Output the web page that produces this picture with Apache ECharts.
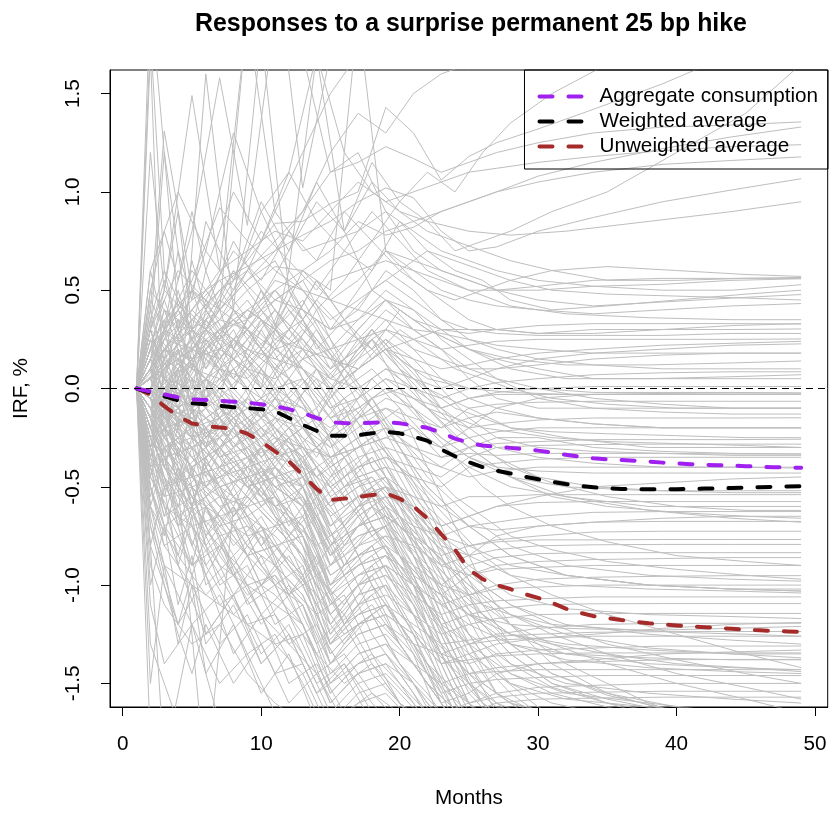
<!DOCTYPE html>
<html>
<head>
<meta charset="utf-8">
<script src="https://cdn.jsdelivr.net/npm/echarts@6/dist/echarts.min.js"></script>
<style>
  html, body { margin: 0; padding: 0; background: #fff; }
  #chart { width: 830px; height: 814px; }
</style>
</head>
<body>
<div id="chart"></div>
<script>
// Horizon in months for the summary responses
const months = [1,2,3,4,5,6,7,8,9,10,11,12,13,14,15,16,17,18,19,20,21,22,23,24,25,
  26,27,28,29,30,31,32,33,34,35,36,37,38,39,40,41,42,43,44,45,46,47,48,49];

const aggregateConsumption = [0,-0.015,-0.03,-0.045,-0.055,-0.058,-0.063,-0.067,-0.072,-0.08,
  -0.09,-0.105,-0.125,-0.15,-0.172,-0.176,-0.177,-0.174,-0.171,-0.177,
  -0.188,-0.2,-0.225,-0.255,-0.275,-0.29,-0.297,-0.302,-0.308,-0.316,
  -0.326,-0.337,-0.347,-0.355,-0.36,-0.364,-0.367,-0.372,-0.377,-0.381,
  -0.385,-0.388,-0.39,-0.392,-0.395,-0.398,-0.4,-0.402,-0.403];

const weightedAverage = [0,-0.02,-0.04,-0.06,-0.075,-0.08,-0.088,-0.095,-0.1,-0.105,
  -0.115,-0.15,-0.185,-0.215,-0.24,-0.24,-0.237,-0.228,-0.22,-0.228,
  -0.245,-0.265,-0.31,-0.345,-0.375,-0.4,-0.418,-0.432,-0.448,-0.462,
  -0.475,-0.486,-0.495,-0.502,-0.508,-0.511,-0.512,-0.513,-0.513,-0.512,
  -0.51,-0.509,-0.508,-0.506,-0.504,-0.502,-0.5,-0.498,-0.497];

const unweightedAverage = [0,-0.03,-0.09,-0.14,-0.178,-0.19,-0.198,-0.205,-0.23,-0.27,
  -0.32,-0.37,-0.44,-0.51,-0.567,-0.56,-0.552,-0.542,-0.533,-0.56,
  -0.6,-0.66,-0.74,-0.82,-0.92,-0.97,-1.0,-1.02,-1.045,-1.065,
  -1.09,-1.12,-1.14,-1.158,-1.168,-1.178,-1.186,-1.194,-1.2,-1.205,
  -1.21,-1.214,-1.218,-1.222,-1.227,-1.23,-1.233,-1.236,-1.238];

// Months at which the first set of individual responses is recorded
const pathMonths = [1,2,3,5,7,9,11,13,15,17,19,21,23,25,27,30,34,39,44,49];

// Individual responses that end well above zero
const highPaths = [
  [0,0.4,1.31,0.5,0.35,0.6,0.9,1.2,1.5,1.7,1.9,2.1,2.3,2.4,2.5,2.6,2.7,2.8,2.9,3.0],
  [0,0.2,0.5,1.49,0.6,1.9,2.2,1.02,1.7,2.0,1.8,1.9,2.0,2.1,2.2,2.2,2.3,2.3,2.4,2.4],
  [0,0.15,0.3,0.8,1.58,0.83,1.9,1.7,1.1,1.2,0.9,0.7,0.6,0.55,0.5,0.52,0.55,0.56,0.56,0.565],
  [0,0.1,0.25,0.55,0.92,0.75,0.6,0.5,0.45,0.4,0.35,0.3,0.28,0.25,0.22,0.2,0.18,0.18,0.18,0.18],
  [0,0.05,0.15,0.3,0.5,0.65,0.84,0.85,0.94,1.0,1.43,1.3,1.06,1.18,1.25,1.32,1.42,1.55,1.7,1.8],
  [0,0.08,0.2,0.35,0.5,0.6,0.75,0.9,1.1,1.15,1.23,1.17,1.1,1.15,1.2,1.25,1.3,1.33,1.34,1.356],
  [0,0.1,0.3,0.45,0.55,0.62,0.7,0.78,0.85,0.95,1.02,0.97,0.8,0.7,0.72,0.8,0.87,0.95,1.01,1.067],
  [0,0.05,0.1,0.2,0.3,0.35,0.45,0.55,0.65,0.7,0.8,0.85,0.9,0.95,1.0,1.08,1.15,1.22,1.28,1.33],
  [0,0.1,0.2,0.4,0.6,0.7,0.8,0.75,0.9,1.05,0.95,1.0,1.05,1.1,1.12,1.15,1.18,1.21,1.23,1.24],
  [0,0.06,0.12,0.25,0.35,0.5,0.62,0.6,0.7,0.85,0.78,0.82,0.9,0.95,1.0,1.05,1.1,1.14,1.16,1.178],
  [0,1.8,0.6,0.3,0.2,0.3,0.1,0.2,0.15,0.1,0.2,0.25,0.3,0.3,0.3,0.28,0.3,0.3,0.3,0.303],
  [0,0.3,1.2,0.2,0.1,0.05,0.2,0.1,-0.1,0.0,0.1,0.0,-0.1,-0.05,-0.02,0.0,-0.02,-0.02,-0.02,-0.023],
  [0,0.1,0.2,0.3,0.4,0.55,0.7,0.9,1.2,1.4,1.3,1.5,1.6,1.65,1.7,1.8,1.9,2.0,2.1,2.2],
  [0,0.05,0.2,0.1,0.3,0.4,0.3,0.6,0.5,1.9,0.7,0.65,0.6,0.55,0.5,0.5,0.52,0.53,0.55,0.558],
  [0,0.1,0.3,0.5,0.4,1.9,0.9,0.7,0.75,0.8,0.9,0.8,0.7,0.65,0.6,0.55,0.52,0.5,0.5,0.528],
  [0,0.1,0.2,0.35,0.25,0.4,0.5,0.35,0.55,0.6,0.65,0.6,0.55,0.5,0.5,0.45,0.42,0.44,0.46,0.478],
  [0,-0.05,0.1,0.2,0.4,0.3,0.5,0.6,0.45,0.55,0.7,0.6,0.5,0.45,0.42,0.4,0.38,0.4,0.42,0.432],
  [0,1.7,-0.2,0.1,0.0,-0.1,-0.2,-0.3,-0.35,-0.3,-0.25,-0.3,-0.35,-0.33,-0.34,-0.33,-0.33,-0.33,-0.333,-0.333]
];

// Responses that wander around zero
const nearZeroPaths = [
  [0,0.15,0.25,0.2,0.35,0.3,0.45,0.4,0.3,0.35,0.45,0.4,0.3,0.28,0.3,0.32,0.33,0.33,0.33,0.328],
  [0,0.1,0.05,0.2,0.15,0.3,0.2,0.25,0.1,0.2,0.3,0.25,0.2,0.22,0.24,0.25,0.25,0.25,0.25,0.252],
  [0,-0.1,0.05,0.0,0.1,0.2,0.15,0.1,0.0,0.1,0.2,0.15,0.1,0.12,0.15,0.18,0.2,0.22,0.23,0.24],
  [0,0.2,0.3,0.15,0.2,0.1,0.05,0.15,0.05,0.0,0.1,0.05,0.0,0.05,0.1,0.15,0.18,0.2,0.22,0.227],
  [0,0.05,-0.05,0.1,0.05,0.15,0.0,0.05,-0.1,-0.05,0.05,0.0,-0.05,0.0,0.03,0.05,0.07,0.08,0.085,0.085],
  [0,-0.05,-0.1,0.05,0.2,0.1,0.25,0.2,0.0,0.1,0.2,0.1,0.05,0.0,0.0,0.0,0.01,0.01,0.01,0.01],
  [0,0.3,0.1,0.35,0.25,0.4,0.3,0.15,0.2,0.25,0.3,0.2,0.15,0.1,0.1,0.12,0.15,0.17,0.18,0.18],
  [0,0.0,0.15,0.3,0.45,0.35,0.55,0.5,0.35,0.45,0.55,0.45,0.35,0.3,0.28,0.27,0.27,0.27,0.28,0.28],
  [0,0.2,0.35,0.5,0.3,0.45,0.25,0.35,0.1,0.2,0.35,0.2,0.05,-0.05,-0.1,-0.15,-0.18,-0.2,-0.2,-0.2],
  [0,0.25,0.15,0.4,0.55,0.35,0.5,0.3,0.15,0.3,0.45,0.3,0.2,0.1,0.05,0.0,-0.05,-0.08,-0.1,-0.1],
  [0,0.1,0.3,0.2,0.4,0.6,0.45,0.55,0.3,0.4,0.6,0.5,0.35,0.25,0.2,0.15,0.12,0.1,0.1,0.1],
  [0,0.35,0.2,0.15,0.3,0.2,0.4,0.25,0.05,0.15,0.25,0.1,-0.1,-0.25,-0.35,-0.45,-0.5,-0.52,-0.53,-0.53],
  [0,0.05,0.25,0.4,0.25,0.15,0.3,0.45,0.2,0.35,0.5,0.4,0.25,0.15,0.05,-0.05,-0.1,-0.12,-0.13,-0.13],
  [0,0.15,0.4,0.3,0.15,0.35,0.2,0.1,-0.05,0.1,0.25,0.15,0.0,-0.15,-0.25,-0.3,-0.32,-0.33,-0.34,-0.34],
  [0,0.45,0.3,0.6,0.4,0.55,0.65,0.4,0.3,0.5,0.7,0.55,0.45,0.35,0.3,0.28,0.28,0.3,0.32,0.33],
  [0,0.1,0.0,0.15,0.25,0.4,0.3,0.2,0.05,0.25,0.4,0.3,0.2,0.05,-0.05,-0.1,-0.1,-0.1,-0.1,-0.1],
  [0,0.3,0.5,0.35,0.5,0.3,0.15,0.3,0.15,0.1,0.2,0.05,-0.1,-0.2,-0.3,-0.35,-0.38,-0.4,-0.4,-0.4],
  [0,0.0,0.1,0.25,0.1,0.25,0.4,0.25,0.1,0.3,0.45,0.35,0.3,0.2,0.15,0.1,0.05,0.05,0.05,0.05],
  [0,-0.1,0.0,-0.05,0.05,-0.1,0.0,-0.1,-0.2,-0.1,0.0,-0.05,-0.1,-0.05,-0.03,-0.03,-0.03,-0.03,-0.03,-0.03],
  [0,0.05,-0.1,-0.15,-0.05,-0.2,-0.1,-0.15,-0.3,-0.2,-0.1,-0.15,-0.2,-0.1,-0.08,-0.07,-0.065,-0.065,-0.065,-0.065],
  [0,-0.15,-0.25,-0.1,-0.2,-0.05,-0.15,-0.25,-0.35,-0.25,-0.2,-0.25,-0.3,-0.2,-0.18,-0.16,-0.15,-0.15,-0.15,-0.149],
  [0,0.1,0.2,0.05,-0.05,0.1,-0.05,-0.1,-0.25,-0.15,-0.1,-0.2,-0.3,-0.25,-0.22,-0.2,-0.2,-0.2,-0.2,-0.2],
  [0,-0.2,-0.1,-0.3,-0.2,-0.35,-0.25,-0.3,-0.45,-0.35,-0.3,-0.35,-0.4,-0.3,-0.28,-0.27,-0.26,-0.26,-0.26,-0.258],
  [0,0.0,-0.2,-0.15,-0.3,-0.2,-0.35,-0.4,-0.5,-0.4,-0.35,-0.4,-0.45,-0.35,-0.3,-0.29,-0.285,-0.283,-0.283,-0.283],
  [0,-0.1,-0.15,-0.25,-0.15,-0.3,-0.2,-0.35,-0.55,-0.45,-0.4,-0.45,-0.5,-0.4,-0.38,-0.36,-0.35,-0.35,-0.35,-0.35],
  [0,0.1,0.0,0.15,0.3,0.2,0.1,0.0,-0.15,-0.1,0.0,-0.1,-0.25,-0.35,-0.4,-0.42,-0.43,-0.43,-0.43,-0.43],
  [0,-0.05,-0.12,-0.2,-0.1,-0.25,-0.15,-0.2,-0.4,-0.3,-0.2,-0.3,-0.4,-0.45,-0.42,-0.4,-0.4,-0.4,-0.4,-0.405],
  [0,0.15,0.05,-0.1,0.1,0.0,-0.1,0.05,-0.15,-0.05,0.05,-0.05,-0.15,-0.2,-0.1,-0.05,-0.03,-0.025,-0.023,-0.023],
  [0,-0.25,-0.15,-0.05,-0.25,-0.15,-0.3,-0.2,-0.35,-0.3,-0.25,-0.2,-0.35,-0.3,-0.25,-0.25,-0.3,-0.32,-0.33,-0.333],
  [0,0.05,0.2,0.1,0.0,-0.15,-0.05,-0.2,-0.3,-0.15,-0.05,-0.1,-0.2,-0.15,-0.12,-0.15,-0.18,-0.2,-0.2,-0.2]
];

// Responses that settle between -0.4 and -1.6
const lowPaths = [
  [0,-0.2,-0.35,-0.3,-0.45,-0.35,-0.5,-0.45,-0.65,-0.55,-0.5,-0.55,-0.6,-0.55,-0.55,-0.54,-0.54,-0.54,-0.54,-0.54],
  [0,-0.1,-0.2,-0.4,-0.3,-0.5,-0.4,-0.55,-0.75,-0.6,-0.55,-0.6,-0.7,-0.65,-0.6,-0.58,-0.575,-0.575,-0.575,-0.575],
  [0,-0.3,-0.2,-0.45,-0.55,-0.4,-0.6,-0.5,-0.8,-0.7,-0.6,-0.7,-0.75,-0.7,-0.68,-0.65,-0.63,-0.626,-0.626,-0.626],
  [0,0.0,-0.1,-0.2,-0.1,-0.25,-0.35,-0.3,-0.5,-0.4,-0.35,-0.45,-0.6,-0.7,-0.72,-0.7,-0.68,-0.676,-0.676,-0.676],
  [0,-0.15,-0.3,-0.2,-0.4,-0.5,-0.45,-0.6,-0.85,-0.7,-0.65,-0.75,-0.85,-0.8,-0.77,-0.75,-0.73,-0.726,-0.726,-0.726],
  [0,0.1,-0.05,-0.15,-0.3,-0.2,-0.4,-0.5,-0.7,-0.6,-0.5,-0.6,-0.75,-0.8,-0.78,-0.77,-0.77,-0.768,-0.768,-0.768],
  [0,-0.35,-0.5,-0.4,-0.6,-0.55,-0.7,-0.65,-0.9,-0.8,-0.75,-0.8,-0.9,-0.85,-0.82,-0.8,-0.795,-0.793,-0.793,-0.793],
  [0,-0.05,-0.15,-0.3,-0.45,-0.4,-0.55,-0.7,-0.95,-0.85,-0.8,-0.9,-1.0,-0.9,-0.86,-0.84,-0.835,-0.835,-0.835,-0.835],
  [0,-0.2,-0.1,-0.35,-0.25,-0.45,-0.6,-0.55,-0.8,-0.7,-0.65,-0.75,-0.9,-0.95,-0.9,-0.88,-0.87,-0.865,-0.86,-0.86],
  [0,-0.4,-0.3,-0.55,-0.45,-0.65,-0.55,-0.75,-1.0,-0.9,-0.85,-0.95,-1.05,-0.95,-0.92,-0.91,-0.9,-0.9,-0.9,-0.9],
  [0,-0.1,-0.25,-0.15,-0.35,-0.3,-0.5,-0.6,-0.85,-0.75,-0.7,-0.85,-1.0,-1.05,-1.0,-0.97,-0.96,-0.955,-0.952,-0.952],
  [0,-0.25,-0.4,-0.6,-0.5,-0.7,-0.8,-0.75,-1.1,-0.95,-0.9,-1.0,-1.1,-1.05,-1.02,-1.01,-1.0,-1.0,-1.0,-1.0],
  [0,0.05,-0.1,-0.25,-0.2,-0.35,-0.3,-0.45,-0.6,-0.5,-0.45,-0.55,-0.7,-0.65,-0.6,-0.55,-0.5,-0.48,-0.46,-0.45],
  [0,-0.15,-0.05,-0.2,-0.35,-0.25,-0.45,-0.4,-0.7,-0.55,-0.5,-0.65,-0.8,-0.85,-0.75,-0.7,-0.68,-0.66,-0.65,-0.65],
  [0,-0.3,-0.5,-0.45,-0.65,-0.75,-0.7,-0.85,-1.15,-1.0,-0.95,-1.05,-1.15,-1.1,-1.08,-1.07,-1.06,-1.06,-1.06,-1.06],
  [0,-0.1,-0.2,-0.35,-0.5,-0.45,-0.65,-0.8,-1.05,-0.95,-0.9,-1.0,-1.2,-1.15,-1.12,-1.1,-1.095,-1.094,-1.094,-1.094],
  [0,-0.45,-0.6,-0.7,-0.65,-0.85,-0.8,-0.95,-1.25,-1.1,-1.05,-1.15,-1.25,-1.2,-1.17,-1.15,-1.145,-1.144,-1.144,-1.144],
  [0,-0.05,-0.25,-0.4,-0.3,-0.5,-0.6,-0.7,-1.0,-0.9,-0.85,-1.0,-1.2,-1.3,-1.25,-1.22,-1.2,-1.195,-1.194,-1.194],
  [0,-0.2,-0.35,-0.55,-0.7,-0.65,-0.85,-1.0,-1.3,-1.15,-1.1,-1.2,-1.3,-1.28,-1.26,-1.25,-1.24,-1.237,-1.236,-1.236],
  [0,-0.6,-0.8,-0.7,-0.9,-1.0,-0.95,-1.1,-1.4,-1.25,-1.2,-1.3,-1.35,-1.3,-1.28,-1.27,-1.26,-1.26,-1.26,-1.26],
  [0,-0.15,-0.3,-0.5,-0.45,-0.65,-0.75,-0.9,-1.2,-1.05,-1.0,-1.15,-1.35,-1.4,-1.35,-1.33,-1.32,-1.31,-1.31,-1.31],
  [0,-0.35,-0.25,-0.45,-0.6,-0.8,-0.9,-1.05,-1.35,-1.2,-1.15,-1.25,-1.4,-1.38,-1.36,-1.35,-1.345,-1.345,-1.345,-1.345],
  [0,-0.1,-0.3,-0.25,-0.4,-0.55,-0.7,-0.85,-1.15,-1.0,-0.95,-1.1,-1.3,-1.45,-1.42,-1.4,-1.39,-1.38,-1.378,-1.378],
  [0,-0.5,-0.7,-0.9,-0.8,-1.0,-1.1,-1.2,-1.5,-1.35,-1.3,-1.4,-1.5,-1.45,-1.44,-1.43,-1.43,-1.43,-1.43,-1.43],
  [0,-0.25,-0.4,-0.6,-0.75,-0.7,-0.9,-1.05,-1.4,-1.25,-1.2,-1.35,-1.55,-1.5,-1.48,-1.47,-1.46,-1.46,-1.46,-1.46],
  [0,-0.05,-0.2,-0.35,-0.55,-0.6,-0.8,-1.0,-1.3,-1.15,-1.1,-1.3,-1.5,-1.6,-1.55,-1.52,-1.51,-1.5,-1.5,-1.5],
  [0,-0.7,-0.9,-1.0,-1.1,-1.2,-1.3,-1.25,-1.6,-1.45,-1.4,-1.5,-1.65,-1.6,-1.57,-1.55,-1.545,-1.54,-1.54,-1.54],
  [0,-0.3,-0.45,-0.65,-0.8,-0.95,-1.05,-1.2,-1.55,-1.4,-1.35,-1.5,-1.7,-1.65,-1.6,-1.58,-1.575,-1.57,-1.57,-1.57],
  [0,-0.15,-0.35,-0.55,-0.65,-0.85,-1.0,-1.1,-1.45,-1.3,-1.25,-1.4,-1.6,-1.55,-1.45,-1.4,-1.38,-1.35,-1.34,-1.33],
  [0,-0.4,-0.55,-0.5,-0.7,-0.85,-0.8,-1.0,-1.3,-1.2,-1.15,-1.25,-1.4,-1.35,-1.3,-1.27,-1.25,-1.22,-1.2,-1.19]
];

// Responses that fall below the plotted range
const deepPaths = [
  [0,-1.8,-2.0,-2.2,-2.3,-2.4,-2.5,-2.6,-2.8,-2.9,-3,-3,-3,-3,-3,-3,-3,-3,-3,-3],
  [0,-0.8,-1.9,-1.2,-1.7,-2.0,-2.2,-2.4,-2.6,-2.7,-2.8,-2.9,-3,-3,-3,-3,-3,-3,-3,-3],
  [0,-0.3,-0.6,-0.9,-0.75,-1.1,-1.0,-1.3,-1.6,-1.45,-1.4,-1.6,-1.8,-2.0,-2.1,-2.2,-2.3,-2.3,-2.3,-2.3],
  [0,-0.4,-0.7,-0.6,-1.0,-0.9,-1.2,-1.1,-1.5,-1.35,-1.3,-1.5,-1.75,-1.9,-2.0,-2.1,-2.2,-2.2,-2.2,-2.2],
  [0,-0.2,-0.45,-0.8,-1.1,-1.0,-1.3,-1.45,-1.75,-1.6,-1.55,-1.7,-1.9,-2.0,-2.1,-2.1,-2.2,-2.2,-2.2,-2.2],
  [0,-0.6,-0.9,-1.2,-1.05,-1.35,-1.25,-1.5,-1.8,-1.7,-1.65,-1.8,-2.0,-2.1,-2.2,-2.2,-2.2,-2.2,-2.2,-2.2],
  [0,-0.15,-0.5,-0.7,-0.95,-1.2,-1.15,-1.35,-1.65,-1.5,-1.45,-1.6,-1.85,-2.0,-2.1,-2.2,-2.3,-2.3,-2.3,-2.3],
  [0,-0.9,-1.1,-1.3,-1.2,-1.45,-1.6,-1.7,-2.0,-1.9,-1.85,-2.0,-2.2,-2.3,-2.3,-2.3,-2.3,-2.3,-2.3,-2.3],
  [0,-0.5,-0.8,-1.0,-1.3,-1.15,-1.45,-1.4,-1.7,-1.55,-1.5,-1.7,-1.9,-2.0,-2.0,-2.0,-2.0,-2.0,-2.0,-2.0],
  [0,-1.1,-1.4,-1.2,-1.5,-1.35,-1.65,-1.8,-2.0,-2.0,-2.0,-2.1,-2.2,-2.2,-2.2,-2.2,-2.2,-2.2,-2.2,-2.2],
  [0,-0.35,-0.65,-0.55,-0.85,-1.05,-0.95,-1.2,-1.55,-1.4,-1.35,-1.55,-1.8,-1.95,-2.0,-2.0,-2.0,-2.0,-2.0,-2.0],
  [0,-0.25,-0.4,-0.65,-0.55,-0.8,-1.0,-0.9,-1.35,-1.2,-1.1,-1.3,-1.6,-1.8,-1.9,-2.0,-2.0,-2.0,-2.0,-2.0],
  [0,-0.1,-0.2,-0.3,-0.25,-0.4,-0.5,-0.6,-0.95,-0.85,-0.8,-1.0,-1.3,-1.6,-1.75,-1.85,-1.9,-1.95,-2.0,-2.0],
  [0,-0.05,-0.15,-0.1,-0.3,-0.2,-0.4,-0.55,-0.85,-0.7,-0.65,-0.9,-1.2,-1.5,-1.7,-1.8,-1.9,-1.9,-1.9,-1.9],
  [0,0.05,-0.1,-0.2,-0.15,-0.3,-0.45,-0.5,-0.9,-0.75,-0.7,-1.0,-1.4,-1.7,-1.8,-1.9,-2.0,-2.0,-2.0,-2.0],
  [0,-0.15,-0.05,-0.25,-0.4,-0.35,-0.55,-0.7,-1.1,-0.95,-0.85,-1.1,-1.45,-1.75,-1.9,-2.0,-2.0,-2.0,-2.0,-2.0],
  [0,0.1,0.0,-0.1,-0.2,-0.1,-0.3,-0.4,-0.75,-0.6,-0.5,-0.8,-1.1,-1.4,-1.65,-1.8,-1.9,-1.9,-1.9,-1.9],
  [0,-0.2,-0.3,-0.2,-0.35,-0.5,-0.45,-0.65,-1.0,-0.85,-0.75,-0.95,-1.25,-1.55,-1.7,-1.75,-1.8,-1.8,-1.8,-1.8],
  [0,-0.1,-0.25,-0.4,-0.3,-0.45,-0.6,-0.75,-1.2,-1.0,-0.9,-1.15,-1.5,-1.8,-1.9,-2.0,-2.0,-2.0,-2.0,-2.0],
  [0,0.15,0.05,-0.1,0.0,-0.15,-0.25,-0.35,-0.7,-0.55,-0.45,-0.7,-1.0,-1.3,-1.55,-1.7,-1.8,-1.85,-1.9,-1.9],
  [0,-0.3,-0.2,-0.35,-0.5,-0.45,-0.65,-0.8,-1.25,-1.05,-1.0,-1.25,-1.55,-1.85,-1.95,-2.0,-2.0,-2.0,-2.0,-2.0],
  [0,-0.05,-0.1,-0.25,-0.4,-0.3,-0.5,-0.6,-1.05,-0.9,-0.8,-1.05,-1.35,-1.65,-1.8,-1.9,-1.95,-2.0,-2.0,-2.0],
  [0,0.05,0.1,-0.05,-0.15,-0.05,-0.2,-0.35,-0.6,-0.45,-0.4,-0.65,-0.95,-1.25,-1.45,-1.62,-1.75,-1.8,-1.85,-1.85],
  [0,-0.2,-0.35,-0.3,-0.5,-0.6,-0.55,-0.75,-1.15,-1.0,-0.9,-1.1,-1.4,-1.7,-1.85,-1.9,-1.95,-2.0,-2.0,-2.0],
  [0,-0.1,-0.05,-0.15,-0.25,-0.4,-0.35,-0.5,-0.85,-0.65,-0.55,-0.8,-1.15,-1.45,-1.6,-1.68,-1.72,-1.75,-1.75,-1.75],
  [0,0.0,-0.15,-0.3,-0.2,-0.35,-0.45,-0.6,-1.0,-0.8,-0.7,-0.95,-1.3,-1.6,-1.75,-1.85,-1.9,-1.9,-1.9,-1.9],
  [0,-0.25,-0.4,-0.5,-0.65,-0.6,-0.8,-0.95,-1.4,-1.2,-1.1,-1.35,-1.7,-1.9,-2.0,-2.0,-2.0,-2.0,-2.0,-2.0],
  [0,-0.05,-0.2,-0.15,-0.3,-0.45,-0.4,-0.55,-0.9,-0.7,-0.6,-0.85,-1.2,-1.5,-1.62,-1.66,-1.68,-1.7,-1.7,-1.7],
  [0,0.1,-0.05,0.0,-0.1,-0.2,-0.3,-0.45,-0.8,-0.65,-0.55,-0.75,-1.05,-1.35,-1.55,-1.65,-1.7,-1.72,-1.75,-1.75],
  [0,-0.15,-0.3,-0.45,-0.4,-0.55,-0.7,-0.85,-1.3,-1.1,-1.0,-1.25,-1.6,-1.85,-1.95,-2.0,-2.0,-2.0,-2.0,-2.0]
];

// Months at which the second set of individual responses is recorded
const spreadMonths = [1,2,4,6,8,10,12,14,16,18,20,22,24,26,28,31,35,40,45,49];

// Second set: responses recorded on even months
const spreadPaths = [
  [0,0.3,0.6,0.45,0.7,0.55,0.8,0.65,0.9,0.75,0.95,1.1,1.0,1.2,1.35,1.5,1.65,1.8,1.9,2.0],
  [0,0.2,0.1,0.35,0.6,0.45,0.7,0.95,0.8,1.05,0.9,0.85,0.7,0.75,0.8,0.9,1.0,1.2,1.4,1.65],
  [0,0.5,0.3,0.7,0.5,0.9,0.6,0.4,0.55,0.75,0.6,0.5,0.45,0.5,0.55,0.6,0.62,0.6,0.58,0.57],
  [0,0.1,0.45,0.3,0.55,0.8,0.65,0.5,0.7,0.6,0.85,0.7,0.6,0.55,0.45,0.4,0.42,0.45,0.48,0.5],
  [0,0.6,1.0,0.7,1.3,0.9,1.1,1.7,1.2,1.0,0.9,0.8,0.75,0.7,0.65,0.6,0.55,0.55,0.56,0.56],
  [0,-0.1,0.1,-0.05,0.15,0.0,-0.2,-0.1,-0.45,-0.3,-0.6,-0.9,-1.2,-1.4,-1.55,-1.7,-1.8,-1.9,-2,-2],
  [0,0.05,-0.15,0.05,-0.1,0.1,-0.05,-0.3,-0.2,-0.5,-0.8,-1.1,-1.35,-1.6,-1.75,-1.85,-1.9,-2,-2,-2],
  [0,-0.2,0.0,-0.25,-0.05,-0.3,-0.15,-0.4,-0.3,-0.6,-0.7,-1.0,-1.3,-1.5,-1.6,-1.65,-1.7,-1.75,-1.8,-1.8],
  [0,0.15,-0.05,0.2,0.0,-0.15,0.05,-0.2,-0.35,-0.25,-0.5,-0.75,-1.05,-1.3,-1.45,-1.55,-1.62,-1.7,-1.75,-1.8],
  [0,-0.3,-0.1,-0.35,-0.15,-0.4,-0.25,-0.5,-0.7,-0.55,-0.85,-1.1,-1.4,-1.6,-1.7,-1.8,-1.9,-1.9,-1.9,-1.9],
  [0,0.0,0.2,0.05,0.25,0.1,-0.1,0.05,-0.2,-0.1,-0.35,-0.6,-0.9,-1.2,-1.35,-1.5,-1.58,-1.65,-1.7,-1.75],
  [0,-0.05,-0.25,-0.1,-0.3,-0.15,-0.35,-0.55,-0.4,-0.7,-0.95,-1.2,-1.5,-1.7,-1.8,-1.9,-2,-2,-2,-2],
  [0,0.1,-0.1,-0.3,-0.1,-0.25,-0.45,-0.3,-0.55,-0.75,-0.65,-0.9,-1.15,-1.35,-1.5,-1.6,-1.66,-1.7,-1.72,-1.75],
  [0,-0.15,-0.35,-0.2,-0.45,-0.3,-0.5,-0.65,-0.9,-0.8,-1.05,-1.25,-1.45,-1.6,-1.7,-1.8,-1.85,-1.9,-1.9,-1.9],
  [0,0.2,0.05,0.25,0.05,0.2,0.0,-0.15,0.05,-0.2,-0.4,-0.65,-0.95,-1.15,-1.3,-1.45,-1.55,-1.62,-1.68,-1.7],
  [0,-0.25,-0.45,-0.3,-0.55,-0.4,-0.65,-0.8,-0.7,-1.0,-1.2,-1.4,-1.65,-1.8,-1.9,-2,-2,-2,-2,-2],
  [0,0.05,0.15,-0.05,0.1,-0.1,0.05,-0.15,-0.3,-0.2,-0.45,-0.7,-1.0,-1.25,-1.4,-1.52,-1.6,-1.66,-1.7,-1.72],
  [0,-0.1,-0.3,-0.5,-0.35,-0.6,-0.45,-0.7,-0.95,-0.85,-1.1,-1.35,-1.6,-1.75,-1.85,-1.9,-1.95,-2,-2,-2],
  [0,-0.35,-0.55,-0.4,-0.65,-0.5,-0.75,-0.95,-0.85,-1.15,-1.3,-1.5,-1.7,-1.85,-1.9,-2,-2,-2,-2,-2],
  [0,0.25,0.4,0.2,0.35,0.15,0.3,0.1,-0.05,-0.2,-0.1,-0.4,-0.7,-1.0,-1.2,-1.4,-1.55,-1.65,-1.7,-1.75],
  [0,-0.05,0.1,0.3,0.15,0.35,0.2,0.0,0.15,-0.1,-0.3,-0.55,-0.85,-1.1,-1.3,-1.45,-1.56,-1.64,-1.7,-1.72],
  [0,-0.45,-0.7,-0.55,-0.8,-0.65,-0.9,-1.05,-1.25,-1.15,-1.4,-1.55,-1.75,-1.9,-2,-2,-2,-2,-2,-2],
  [0,-0.6,-0.85,-1.05,-0.9,-1.15,-1.3,-1.2,-1.45,-1.35,-1.6,-1.75,-1.9,-2,-2,-2,-2,-2,-2,-2],
  [0,-0.2,-0.5,-0.75,-0.6,-0.9,-1.05,-0.95,-1.2,-1.1,-1.3,-1.5,-1.7,-1.85,-1.9,-2,-2,-2,-2,-2],
  [0,-0.4,-0.25,-0.6,-0.85,-0.7,-1.0,-1.15,-1.05,-1.35,-1.5,-1.65,-1.8,-1.9,-2,-2,-2,-2,-2,-2],
  [0,-0.8,-1.2,-0.95,-1.35,-1.15,-1.5,-1.4,-1.65,-1.55,-1.7,-1.85,-2,-2,-2,-2,-2,-2,-2,-2],
  [0,-0.3,-0.65,-0.9,-1.15,-1.0,-1.3,-1.45,-1.35,-1.55,-1.65,-1.8,-1.95,-2,-2,-2,-2,-2,-2,-2],
  [0,-1.3,-1.7,-1.9,-2,-2,-2,-2,-2,-2,-2,-2,-2,-2,-2,-2,-2,-2,-2,-2],
  [0,-0.5,-0.9,-1.25,-1.05,-1.4,-1.25,-1.55,-1.45,-1.7,-1.8,-1.9,-2,-2,-2,-2,-2,-2,-2,-2],
  [0,-0.15,-0.4,-0.7,-0.95,-1.2,-1.05,-1.35,-1.5,-1.4,-1.6,-1.7,-1.85,-2,-2,-2,-2,-2,-2,-2],
  [0,0.1,-0.1,0.05,-0.15,-0.05,-0.25,-0.15,-0.35,-0.25,-0.4,-0.55,-0.7,-0.85,-0.95,-1.05,-1.15,-1.25,-1.35,-1.42],
  [0,-0.15,0.05,-0.1,-0.3,-0.2,-0.4,-0.3,-0.5,-0.45,-0.6,-0.75,-0.9,-1.05,-1.15,-1.25,-1.35,-1.45,-1.52,-1.58],
  [0,0.05,0.2,0.05,0.25,0.1,0.3,0.15,0.0,0.1,-0.05,-0.2,-0.35,-0.5,-0.6,-0.7,-0.78,-0.85,-0.88,-0.9],
  [0,-0.05,-0.2,-0.05,-0.25,-0.1,-0.3,-0.45,-0.35,-0.55,-0.7,-0.85,-1.0,-1.15,-1.25,-1.3,-1.35,-1.4,-1.42,-1.44],
  [0,0.3,0.15,0.35,0.2,0.4,0.25,0.45,0.3,0.2,0.05,-0.1,-0.25,-0.35,-0.45,-0.55,-0.6,-0.63,-0.65,-0.66],
  [0,-0.25,-0.1,-0.3,-0.15,-0.35,-0.2,-0.4,-0.6,-0.5,-0.7,-0.85,-1.05,-1.2,-1.35,-1.5,-1.6,-1.7,-1.8,-1.85],
  [0,0.15,0.0,-0.2,-0.05,-0.25,-0.1,-0.3,-0.45,-0.35,-0.55,-0.7,-0.85,-1.0,-1.1,-1.2,-1.3,-1.38,-1.45,-1.5],
  [0,-0.1,0.05,0.2,0.35,0.2,0.4,0.25,0.1,0.25,0.1,-0.05,-0.2,-0.3,-0.4,-0.48,-0.55,-0.6,-0.62,-0.62],
  [0,0.0,-0.15,0.0,-0.2,-0.35,-0.2,-0.4,-0.55,-0.45,-0.65,-0.8,-0.95,-1.1,-1.2,-1.3,-1.4,-1.5,-1.58,-1.65],
  [0,0.2,0.35,0.15,0.4,0.2,0.05,0.25,0.05,-0.1,-0.25,-0.4,-0.55,-0.65,-0.75,-0.82,-0.88,-0.92,-0.95,-0.97],
  [0,2.0,0.4,0.1,0.3,0.0,0.2,-0.1,0.1,-0.05,0.0,-0.1,-0.15,-0.2,-0.22,-0.25,-0.27,-0.28,-0.29,-0.3],
  [0,0.3,-0.2,1.6,0.4,0.2,0.5,0.3,0.1,0.25,0.1,0.0,-0.1,-0.15,-0.2,-0.22,-0.23,-0.24,-0.25,-0.25],
  [0,0.1,0.3,0.0,0.4,1.8,0.5,0.2,0.35,0.15,0.3,0.2,0.1,0.05,0.0,-0.05,-0.08,-0.1,-0.1,-0.1],
  [0,-0.2,0.1,-0.3,0.2,0.0,0.6,1.7,0.8,0.5,0.6,0.7,0.65,0.6,0.55,0.5,0.48,0.47,0.46,0.45],
  [0,0.1,-0.5,-2.0,-0.6,-0.3,-0.5,-0.4,-0.6,-0.5,-0.7,-0.85,-1.0,-1.1,-1.15,-1.2,-1.22,-1.24,-1.25,-1.26]
];

// Months at which the third set of individual responses is recorded
const coreMonths = [1,2,3,4,5,6,8,10,12,14,16,18,20,22,25,28,32,38,44,49];

// Third set: responses with month-to-month swings early on
const corePaths = [
  [0,-0.3,0.1,-0.2,0.05,-0.25,-0.1,-0.35,-0.2,-0.45,-0.3,-0.5,-0.65,-0.8,-1.0,-1.2,-1.4,-1.6,-1.75,-1.85],
  [0,0.25,-0.05,0.2,-0.1,0.15,0.0,0.2,-0.05,0.1,-0.15,0.05,-0.1,-0.25,-0.4,-0.5,-0.55,-0.6,-0.6,-0.6],
  [0,-0.45,-0.2,-0.5,-0.3,-0.55,-0.4,-0.6,-0.75,-0.6,-0.85,-0.7,-0.9,-1.1,-1.3,-1.45,-1.55,-1.6,-1.65,-1.7],
  [0,0.1,0.35,0.05,0.3,0.1,0.4,0.2,0.45,0.25,0.1,0.3,0.15,0.0,-0.1,-0.2,-0.25,-0.3,-0.3,-0.3],
  [0,-0.6,-0.35,-0.7,-0.5,-0.8,-0.6,-0.9,-0.75,-1.0,-1.15,-0.95,-1.2,-1.4,-1.6,-1.75,-1.85,-1.9,-1.9,-1.9],
  [0,0.0,-0.25,0.05,-0.2,0.0,-0.3,-0.1,-0.35,-0.2,-0.5,-0.35,-0.55,-0.75,-0.95,-1.1,-1.2,-1.25,-1.28,-1.3],
  [0,-0.15,0.15,-0.1,0.2,-0.05,0.25,0.05,-0.15,0.1,-0.1,-0.25,-0.4,-0.6,-0.8,-0.9,-0.95,-1.0,-1.02,-1.03],
  [0,0.4,0.15,0.5,0.25,0.45,0.2,0.5,0.3,0.55,0.35,0.5,0.4,0.3,0.2,0.1,0.05,0.05,0.06,0.07],
  [0,-0.25,-0.55,-0.3,-0.6,-0.4,-0.7,-0.5,-0.8,-0.65,-0.95,-0.8,-1.05,-1.25,-1.45,-1.6,-1.7,-1.75,-1.8,-1.8],
  [0,0.15,-0.1,-0.35,-0.1,-0.4,-0.2,-0.45,-0.3,-0.6,-0.45,-0.7,-0.85,-1.0,-1.15,-1.2,-1.22,-1.23,-1.22,-1.21],
  [0,-0.8,-0.5,-0.9,-0.65,-1.0,-0.85,-1.15,-1.0,-1.3,-1.15,-1.4,-1.55,-1.7,-1.85,-1.95,-2,-2,-2,-2],
  [0,0.3,0.05,0.35,0.1,0.4,0.15,-0.05,0.2,0.0,-0.2,-0.05,-0.25,-0.45,-0.65,-0.8,-0.9,-0.95,-0.97,-0.98],
  [0,-0.05,-0.35,-0.6,-0.4,-0.7,-0.55,-0.8,-0.65,-0.95,-1.1,-0.9,-1.15,-1.3,-1.5,-1.65,-1.75,-1.8,-1.85,-1.85],
  [0,0.2,0.45,0.25,0.5,0.3,0.6,0.4,0.2,0.35,0.15,0.3,0.1,-0.1,-0.3,-0.45,-0.55,-0.62,-0.66,-0.68],
  [0,-0.35,-0.1,-0.4,-0.6,-0.35,-0.65,-0.45,-0.75,-0.55,-0.9,-0.7,-0.95,-1.15,-1.35,-1.5,-1.58,-1.62,-1.65,-1.66],
  [0,-1.0,-0.7,-1.1,-0.85,-1.25,-1.05,-1.35,-1.2,-1.5,-1.4,-1.6,-1.75,-1.9,-2,-2,-2,-2,-2,-2],
  [0,0.05,0.3,0.0,-0.25,0.05,-0.2,0.1,-0.15,-0.35,-0.1,-0.4,-0.6,-0.8,-1.0,-1.15,-1.25,-1.32,-1.35,-1.37],
  [0,-0.2,0.05,0.25,0.0,0.3,0.05,0.35,0.1,0.3,0.05,0.25,0.0,-0.2,-0.35,-0.45,-0.5,-0.52,-0.52,-0.52],
  [0,-0.5,-0.75,-0.45,-0.8,-0.6,-0.9,-0.7,-1.05,-0.85,-1.2,-1.0,-1.3,-1.5,-1.7,-1.85,-1.95,-2,-2,-2],
  [0,0.1,-0.15,0.1,-0.2,-0.45,-0.2,-0.5,-0.3,-0.55,-0.7,-0.5,-0.75,-0.95,-1.15,-1.3,-1.38,-1.42,-1.44,-1.45],
  [0,-0.65,-0.95,-1.2,-0.95,-1.3,-1.1,-1.4,-1.25,-1.55,-1.4,-1.65,-1.8,-1.95,-2,-2,-2,-2,-2,-2],
  [0,0.35,0.6,0.3,0.65,0.4,0.75,0.5,0.3,0.55,0.35,0.2,0.4,0.3,0.2,0.15,0.12,0.12,0.13,0.14],
  [0,-0.1,-0.4,-0.15,-0.45,-0.2,-0.5,-0.3,-0.6,-0.4,-0.7,-0.55,-0.8,-1.0,-1.25,-1.4,-1.5,-1.55,-1.58,-1.6],
  [0,0.05,-0.2,-0.45,-0.25,-0.5,-0.3,-0.55,-0.35,-0.65,-0.5,-0.75,-0.9,-1.05,-1.2,-1.3,-1.35,-1.37,-1.38,-1.38],
  [0,-0.3,-0.6,-0.85,-0.6,-0.9,-0.7,-1.0,-0.85,-1.1,-1.3,-1.15,-1.4,-1.6,-1.8,-1.9,-2,-2,-2,-2],
  [0,0.2,-0.05,0.15,-0.1,0.2,-0.05,-0.25,-0.05,-0.3,-0.15,-0.4,-0.55,-0.7,-0.85,-0.95,-1.0,-1.02,-1.03,-1.04],
  [0,-0.4,-0.65,-0.4,-0.7,-0.95,-0.7,-1.0,-0.8,-1.1,-0.95,-1.25,-1.45,-1.65,-1.85,-2,-2,-2,-2,-2],
  [0,0.5,0.8,0.55,0.9,0.6,1.0,0.75,1.1,0.85,0.7,0.9,0.75,0.6,0.5,0.42,0.38,0.36,0.35,0.35],
  [0,-0.2,-0.45,-0.7,-0.95,-0.75,-1.05,-0.85,-1.15,-1.35,-1.2,-1.45,-1.6,-1.75,-1.9,-2,-2,-2,-2,-2],
  [0,0.0,0.2,-0.05,0.15,-0.1,0.1,-0.15,0.05,-0.2,-0.05,-0.3,-0.5,-0.7,-0.9,-1.05,-1.12,-1.15,-1.16,-1.17],
  [0,-0.7,-1.0,-1.25,-1.45,-1.2,-1.5,-1.3,-1.6,-1.45,-1.7,-1.85,-2,-2,-2,-2,-2,-2,-2,-2],
  [0,0.15,0.4,0.2,-0.05,0.25,0.0,0.3,0.05,-0.15,0.1,-0.1,-0.3,-0.5,-0.7,-0.85,-0.95,-1.0,-1.02,-1.02],
  [0,-0.3,-0.05,-0.35,-0.1,-0.4,-0.2,-0.45,-0.25,-0.55,-0.35,-0.6,-0.75,-0.9,-1.1,-1.25,-1.35,-1.4,-1.42,-1.43],
  [0,0.6,0.3,0.7,0.45,0.85,0.55,0.95,0.7,1.05,0.8,1.15,0.95,0.85,0.8,0.78,0.8,0.85,0.9,0.95],
  [0,-0.55,-0.3,-0.65,-0.9,-0.6,-0.95,-0.75,-1.05,-0.9,-1.2,-1.05,-1.3,-1.5,-1.7,-1.85,-1.95,-2,-2,-2],
  [0,0.1,-0.1,-0.35,-0.6,-0.35,-0.65,-0.4,-0.7,-0.5,-0.8,-0.6,-0.85,-1.0,-1.15,-1.25,-1.3,-1.33,-1.35,-1.35],
  [0,0.3,0.55,0.3,0.1,0.35,0.1,-0.1,0.15,-0.05,-0.25,-0.05,-0.3,-0.5,-0.7,-0.85,-0.95,-1.0,-1.02,-1.03],
  [0,-0.15,-0.4,-0.2,-0.5,-0.75,-0.5,-0.8,-0.6,-0.9,-0.7,-1.0,-1.2,-1.45,-1.65,-1.8,-1.9,-1.95,-2,-2],
  [0,1.2,0.5,0.9,0.3,0.6,0.2,0.5,0.15,0.4,0.1,0.3,0.15,0.05,0.0,-0.02,-0.03,-0.03,-0.03,-0.03],
  [0,-1.5,-0.9,-1.3,-1.0,-1.45,-1.2,-1.55,-1.35,-1.7,-1.85,-2,-2,-2,-2,-2,-2,-2,-2,-2]
];

const xTicks = [0, 10, 20, 30, 40, 50];
const yTicks = [-1.5, -1.0, -0.5, 0.0, 0.5, 1.0, 1.5];

const FONT = "'Liberation Sans', Arial, Helvetica, sans-serif";
const GRAY = '#BEBEBE';

const chart = echarts.init(document.getElementById('chart'), null, { renderer: 'canvas' });

function grayLine(xs, path) {
  return {
    type: 'line',
    data: xs.map((m, i) => [m, path[i]]),
    symbol: 'none',
    silent: true,
    z: 1,
    lineStyle: { color: GRAY, width: 1 }
  };
}

const graySeries = []
  .concat(highPaths, nearZeroPaths, lowPaths, deepPaths).map(p => grayLine(pathMonths, p))
  .concat(spreadPaths.map(p => grayLine(spreadMonths, p)))
  .concat(corePaths.map(p => grayLine(coreMonths, p)));

// dashed reference line at zero, drawn over the individual responses
graySeries[graySeries.length - 1].markLine = {
  silent: true,
  symbol: 'none',
  label: { show: false },
  lineStyle: { color: '#000', width: 1, type: [7, 5] },
  data: [{ yAxis: 0 }]
};

function summary(name, values, color) {
  return {
    name: name,
    type: 'line',
    data: months.map((m, i) => [m, values[i]]),
    symbol: 'none',
    z: 3,
    lineStyle: { color: color, width: 4, type: [13, 16], cap: 'round', join: 'round' },
    itemStyle: { color: color }
  };
}

chart.setOption({
  animation: false,
  backgroundColor: '#fff',
  title: {
    text: 'Responses to a surprise permanent 25 bp hike',
    left: 466,
    top: 7,
    textAlign: 'center',
    textStyle: { fontFamily: FONT, fontSize: 24.9, fontWeight: 'bold', color: '#000' }
  },
  legend: {
    data: ['Aggregate consumption', 'Weighted average', 'Unweighted average'],
    orient: 'vertical',
    right: 2,
    top: 70,
    padding: [16, 10, 12, 13],
    itemGap: 4,
    itemWidth: 42,
    itemHeight: 20,
    borderColor: '#000',
    borderWidth: 1,
    borderRadius: 0,
    backgroundColor: 'transparent',
    itemStyle: { opacity: 0 },
    lineStyle: { width: 4, type: [13, 16], cap: 'round' },
    textStyle: { fontFamily: FONT, fontSize: 20.7, color: '#000', padding: [0, 0, 0, 13] }
  },
  grid: {
    left: 110, top: 70, width: 717.7, height: 643.3,
    show: true, borderColor: '#000', borderWidth: 1, backgroundColor: 'transparent'
  },
  xAxis: {
    type: 'value',
    min: -0.92, max: 50.92,
    name: 'Months',
    nameLocation: 'middle',
    nameGap: 81,
    nameTextStyle: { fontFamily: FONT, fontSize: 20.7, color: '#000' },
    axisLine: { show: true, onZero: false, lineStyle: { color: '#000', width: 1 } },
    axisTick: { show: true, length: 9, customValues: xTicks, lineStyle: { color: '#000' } },
    axisLabel: { customValues: xTicks, margin: 27, fontFamily: FONT, fontSize: 20.7, color: '#000',
      formatter: v => String(v) },
    splitLine: { show: false }
  },
  yAxis: {
    type: 'value',
    min: -1.62, max: 1.62,
    name: 'IRF, %',
    nameLocation: 'middle',
    nameGap: 78,
    nameRotate: 90,
    nameTextStyle: { fontFamily: FONT, fontSize: 20.7, color: '#000' },
    axisLine: { show: true, onZero: false, lineStyle: { color: '#000', width: 1 } },
    axisTick: { show: true, length: 9, customValues: yTicks, lineStyle: { color: '#000' } },
    axisLabel: { customValues: yTicks, rotate: 90, margin: 26, fontFamily: FONT, fontSize: 20.7, color: '#000',
      formatter: v => v.toFixed(1) },
    splitLine: { show: false }
  },
  series: graySeries.concat([
    summary('Unweighted average', unweightedAverage, '#A52A2A'),
    summary('Weighted average', weightedAverage, '#000000'),
    summary('Aggregate consumption', aggregateConsumption, '#A020F0')
  ])
});
</script>
</body>
</html>
